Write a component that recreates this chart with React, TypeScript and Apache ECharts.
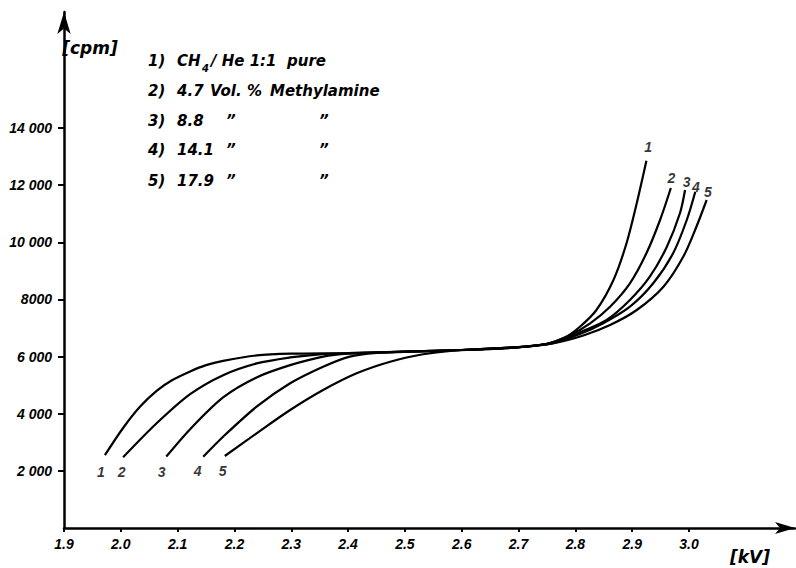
import React, { useEffect, useRef } from "react";
import * as echarts from "echarts";

const xTicks = [1.9, 2.0, 2.1, 2.2, 2.3, 2.4, 2.5, 2.6, 2.7, 2.8, 2.9, 3.0];
const yTicks = [2000, 4000, 6000, 8000, 10000, 12000, 14000];
const yTickLabels = ["2 000", "4 000", "6 000", "8000", "10 000", "12 000", "14 000"];

const curve1 = [[1.972,2550],[2.004,3500],[2.034,4250],[2.063,4800],[2.09,5170],[2.122,5480],[2.15,5700],[2.18,5850],[2.239,6040],[2.3,6100],[2.4,6120],[2.5,6170],[2.6,6230],[2.7,6330],[2.75,6450],[2.78,6650],[2.808,7045],[2.837,7630],[2.867,8680],[2.89,9965],[2.908,11365],[2.925,12850]];
const curve2 = [[2.004,2475],[2.063,3665],[2.122,4685],[2.18,5350],[2.239,5760],[2.298,5970],[2.35,6080],[2.4,6120],[2.5,6170],[2.6,6230],[2.7,6330],[2.75,6450],[2.79,6750],[2.826,7165],[2.861,7745],[2.896,8565],[2.925,9615],[2.949,10780],[2.968,11900]];
const curve3 = [[2.08,2500],[2.122,3460],[2.18,4570],[2.239,5270],[2.298,5700],[2.356,6000],[2.4,6100],[2.5,6170],[2.6,6230],[2.7,6330],[2.76,6480],[2.814,6900],[2.855,7280],[2.896,7980],[2.931,8795],[2.961,9845],[2.984,11015],[2.993,11830]];
const curve4 = [[2.145,2495],[2.18,3195],[2.239,4245],[2.298,5065],[2.356,5645],[2.403,6000],[2.45,6130],[2.5,6165],[2.6,6230],[2.7,6330],[2.76,6470],[2.808,6790],[2.849,7165],[2.896,7745],[2.937,8565],[2.972,9615],[2.996,10780],[3.011,11770]];
const curve5 = [[2.183,2520],[2.239,3315],[2.298,4130],[2.356,4830],[2.415,5415],[2.474,5820],[2.532,6080],[2.58,6200],[2.65,6260],[2.7,6320],[2.76,6460],[2.814,6740],[2.861,7105],[2.908,7630],[2.955,8445],[2.99,9500],[3.013,10545],[3.031,11480]];
const curves = [curve1, curve2, curve3, curve4, curve5];
const curveNames = ["1", "2", "3", "4", "5"];

// label anchors (data coordinates) for curve numbers
const startLabels = [[1.965,1960],[2.0015,1960],[2.072,1960],[2.135,1980],[2.179,1980]];
const endLabels = [[2.928,13330],[2.969,12240],[2.996,12120],[3.012,11945],[3.033,11770]];

const legendNums = ["1)", "2)", "3)", "4)", "5)"];
const legendValues = ["", "4.7", "8.8", "14.1", "17.9"];

export default function App() {
  const ref = useRef<HTMLDivElement>(null);
  useEffect(() => {
    if (!ref.current) return;
    const chart = echarts.init(ref.current, null, { renderer: "svg" });
    const tickFont = { fontFamily: "Liberation Sans", fontStyle: "italic", fontWeight: "bold", fontSize: 14, color: "#000" };
    const legFont = { fontFamily: "DejaVu Sans", fontStyle: "italic", fontWeight: "bold", fontSize: 15, fill: "#000" };

    const rowsY = [61, 91, 121, 150, 181];
    const graphics: any[] = [];
    legendNums.forEach((n, i) => {
      graphics.push({ type: "text", x: 148, y: rowsY[i], style: { text: n, ...legFont, verticalAlign: "middle" } });
    });
    graphics.push({ type: "text", x: 177, y: rowsY[0], style: { text: "CH", ...legFont, verticalAlign: "middle" } });
    graphics.push({ type: "text", x: 202, y: rowsY[0] + 7, style: { text: "4", ...legFont, fontSize: 10, verticalAlign: "middle" } });
    graphics.push({ type: "text", x: 211, y: rowsY[0], style: { text: "/ He 1:1  pure", ...legFont, verticalAlign: "middle" } });
    graphics.push({ type: "text", x: 177, y: rowsY[1], style: { text: "4.7", ...legFont, verticalAlign: "middle" } });
    graphics.push({ type: "text", x: 210, y: rowsY[1], style: { text: "Vol. %", ...legFont, verticalAlign: "middle" } });
    graphics.push({ type: "text", x: 270, y: rowsY[1], style: { text: "Methylamine", ...legFont, verticalAlign: "middle" } });
    for (let i = 2; i < 5; i++) {
      graphics.push({ type: "text", x: 177, y: rowsY[i], style: { text: legendValues[i], ...legFont, verticalAlign: "middle" } });
      graphics.push({ type: "text", x: 226, y: rowsY[i], style: { text: "\u201D", ...legFont, verticalAlign: "middle" } });
      graphics.push({ type: "text", x: 319, y: rowsY[i], style: { text: "\u201D", ...legFont, verticalAlign: "middle" } });
    }
    graphics.push({ type: "text", x: 90, y: 48, style: { text: "[cpm]", ...legFont, fontSize: 17, align: "center", verticalAlign: "middle" } });
    graphics.push({ type: "text", x: 750, y: 557, style: { text: "[kV]", ...legFont, fontSize: 17, align: "center", verticalAlign: "middle" } });

    const lineSeries = curves.map((c, i) => ({
      type: "line",
      name: curveNames[i],
      data: c,
      smooth: 0.3,
      showSymbol: false,
      clip: false,
      lineStyle: { color: "#000", width: 2.2 },
    }));
    const labelData = [
      ...startLabels.map((p, i) => ({ value: p, name: curveNames[i] })),
      ...endLabels.map((p, i) => ({ value: p, name: curveNames[i] })),
    ];
    const labelSeries = {
      type: "scatter",
      data: labelData,
      symbolSize: 0,
      clip: false,
      label: { show: true, position: "inside", formatter: (p: any) => p.name, ...tickFont, fontSize: 14, color: "#000", textBorderWidth: 0 },
    };

    chart.setOption({
      animation: false,
      backgroundColor: "#fff",
      grid: { left: 64, right: 1, top: 12, bottom: 40 },
      xAxis: {
        type: "value",
        min: 1.9,
        max: 3.1865,
        axisLine: { show: true, lineStyle: { color: "#000", width: 2.5 }, symbol: ["none", "arrow"], symbolSize: [9, 20] },
        axisTick: { show: true, length: 4, lineStyle: { color: "#000", width: 2 }, customValues: xTicks },
        axisLabel: { ...tickFont, margin: 9, customValues: xTicks, formatter: (v: number) => v.toFixed(1) },
        splitLine: { show: false },
      },
      yAxis: {
        type: "value",
        min: 0,
        max: 18060,
        axisLine: { show: true, lineStyle: { color: "#000", width: 2.5 }, symbol: ["none", "arrow"], symbolSize: [10, 22] },
        axisTick: { show: true, length: 6, lineStyle: { color: "#000", width: 2 }, customValues: yTicks },
        axisLabel: {
          ...tickFont,
          margin: 12,
          customValues: yTicks,
          formatter: (v: number) => yTickLabels[yTicks.indexOf(v)] ?? "",
        },
        splitLine: { show: false },
      },
      series: [...lineSeries, labelSeries],
      graphic: graphics,
    });
    return () => chart.dispose();
  }, []);
  return <div ref={ref} style={{ position: "absolute", left: 0, top: 0, width: 796, height: 568 }} />;
}
